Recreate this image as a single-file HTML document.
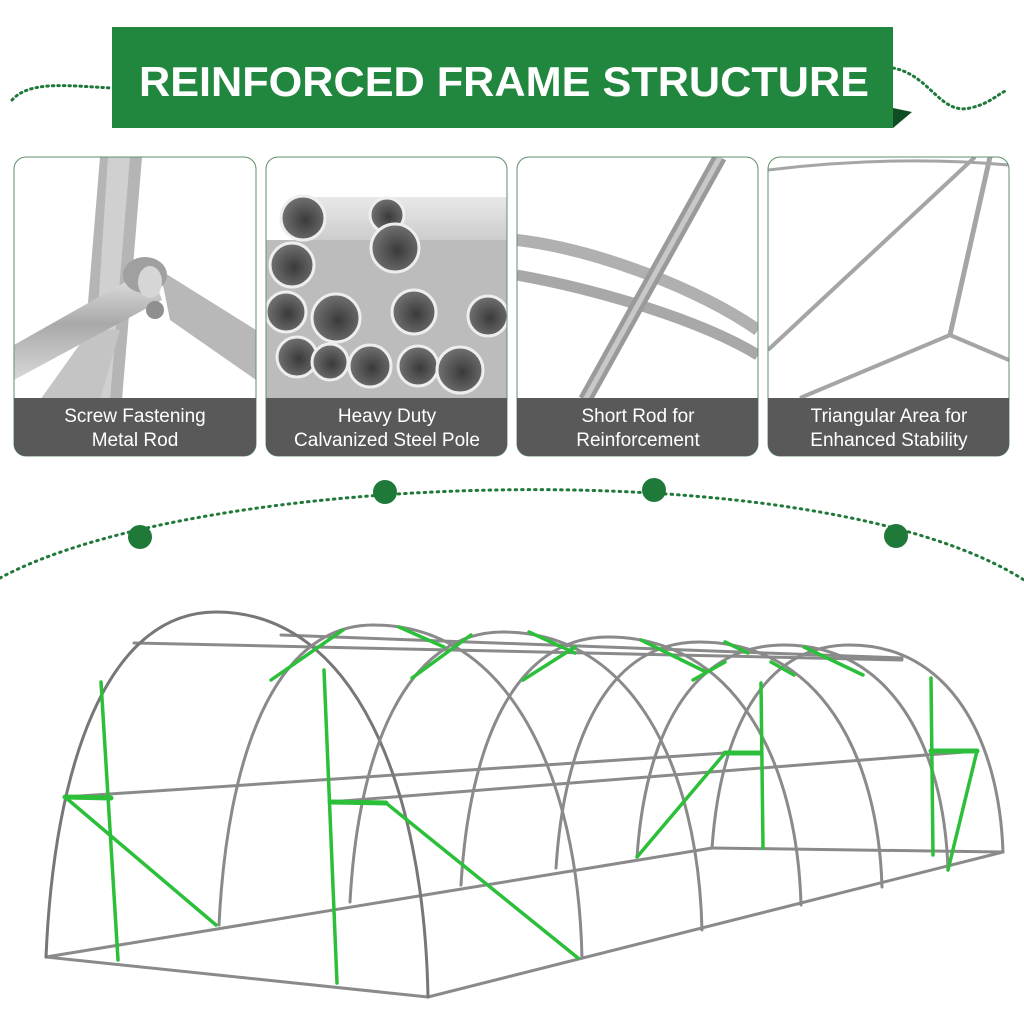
<!DOCTYPE html>
<html><head><meta charset="utf-8"><style>
html,body{margin:0;padding:0;background:#fff;}
svg{display:block}
text{font-family:"Liberation Sans",sans-serif}
</style></head><body>
<svg width="1024" height="1024" viewBox="0 0 1024 1024" xmlns="http://www.w3.org/2000/svg">
<defs>
<linearGradient id="tube" x1="0" y1="0" x2="0" y2="1">
<stop offset="0" stop-color="#e8e8e8"/><stop offset="0.5" stop-color="#a9a9a9"/><stop offset="1" stop-color="#d8d8d8"/>
</linearGradient>
<radialGradient id="hole" cx="0.55" cy="0.55" r="0.6">
<stop offset="0" stop-color="#3a3a3a"/><stop offset="1" stop-color="#777"/>
</radialGradient>
<clipPath id="c1"><rect x="14" y="157" width="242" height="299" rx="12"/></clipPath>
<clipPath id="c2"><rect x="266" y="157" width="241" height="299" rx="12"/></clipPath>
<clipPath id="c3"><rect x="517" y="157" width="241" height="299" rx="12"/></clipPath>
<clipPath id="c4"><rect x="768" y="157" width="241" height="299" rx="12"/></clipPath>
</defs>

<path d="M12,100 C30,80 70,86 112,88" fill="none" stroke="#1f7a3a" stroke-width="3" stroke-dasharray="1.5 4" stroke-linecap="round"/>
<path d="M893,68 C930,75 940,115 970,108 C990,104 1000,92 1008,90" fill="none" stroke="#1f7a3a" stroke-width="3" stroke-dasharray="1.5 4" stroke-linecap="round"/>
<polygon points="893,108 912,112 893,128" fill="#114d24"/>
<rect x="112" y="27" width="781" height="101" fill="#22873e"/>
<text x="504" y="96" text-anchor="middle" font-size="42" font-weight="bold" fill="#fff" textLength="730" lengthAdjust="spacingAndGlyphs">REINFORCED FRAME STRUCTURE</text>

<g clip-path="url(#c1)">
<rect x="14" y="157" width="242" height="299" fill="#fff"/>
<polygon points="100,157 142,157 122,400 80,400" fill="#b5b5b5"/>
<polygon points="108,157 130,157 110,400 92,400" fill="#d0d0d0"/>
<polygon points="160,270 256,330 256,380 170,320" fill="#b8b8b8"/>
<polygon points="40,400 90,330 120,330 100,400" fill="#c4c4c4"/>
<polygon points="14,345 150,268 162,300 14,380" fill="url(#tube)"/>
<ellipse cx="145" cy="275" rx="22" ry="18" fill="#a0a0a0"/>
<ellipse cx="150" cy="282" rx="12" ry="16" fill="#d6d6d6"/>
<circle cx="155" cy="310" r="9" fill="#8f8f8f"/>
</g>
<rect x="14" y="157" width="242" height="299" rx="12" fill="none" stroke="#5f8f6a" stroke-width="1"/>
<path d="M14,398 H256 V444 a12,12 0 0 1 -12,12 H26 a12,12 0 0 1 -12,-12 Z" fill="#595959"/>
<text x="135" y="422" text-anchor="middle" font-size="19" fill="#fff">Screw Fastening</text>
<text x="135" y="446" text-anchor="middle" font-size="19" fill="#fff">Metal Rod</text>

<g clip-path="url(#c2)">
<rect x="266" y="157" width="241" height="299" fill="#fff"/>
<rect x="300" y="197" width="207" height="200" fill="url(#tube)"/>
<rect x="266" y="240" width="241" height="158" fill="#bcbcbc"/>
<g fill="url(#hole)" stroke="#eee" stroke-width="3">
<circle cx="303" cy="218" r="22"/><circle cx="387" cy="215" r="17"/>
<circle cx="395" cy="248" r="24"/>
<circle cx="292" cy="265" r="22"/>
<circle cx="286" cy="312" r="20"/><circle cx="336" cy="318" r="24"/><circle cx="414" cy="312" r="22"/><circle cx="488" cy="316" r="20"/>
<circle cx="297" cy="357" r="20"/><circle cx="330" cy="362" r="18"/><circle cx="370" cy="366" r="21"/><circle cx="418" cy="366" r="20"/><circle cx="460" cy="370" r="23"/>
</g>
</g>
<rect x="266" y="157" width="241" height="299" rx="12" fill="none" stroke="#5f8f6a" stroke-width="1"/>
<path d="M266,398 H507 V444 a12,12 0 0 1 -12,12 H278 a12,12 0 0 1 -12,-12 Z" fill="#595959"/>
<text x="387" y="422" text-anchor="middle" font-size="19" fill="#fff">Heavy Duty</text>
<text x="387" y="446" text-anchor="middle" font-size="19" fill="#fff">Calvanized Steel Pole</text>

<g clip-path="url(#c3)">
<rect x="517" y="157" width="241" height="299" fill="#fff"/>
<path d="M517,240 C600,250 700,290 758,330" fill="none" stroke="#b0b0b0" stroke-width="12"/>
<path d="M517,275 C600,290 700,320 758,355" fill="none" stroke="#a8a8a8" stroke-width="11"/>
<line x1="720" y1="157" x2="585" y2="400" stroke="#9a9a9a" stroke-width="14"/>
<line x1="720" y1="157" x2="585" y2="400" stroke="#c8c8c8" stroke-width="5"/>
</g>
<rect x="517" y="157" width="241" height="299" rx="12" fill="none" stroke="#5f8f6a" stroke-width="1"/>
<path d="M517,398 H758 V444 a12,12 0 0 1 -12,12 H529 a12,12 0 0 1 -12,-12 Z" fill="#595959"/>
<text x="638" y="422" text-anchor="middle" font-size="19" fill="#fff">Short Rod for</text>
<text x="638" y="446" text-anchor="middle" font-size="19" fill="#fff">Reinforcement</text>

<g clip-path="url(#c4)">
<rect x="768" y="157" width="241" height="299" fill="#fff"/>
<g stroke="#a5a5a5" fill="none">
<line x1="975" y1="157" x2="768" y2="350" stroke-width="4"/>
<line x1="990" y1="157" x2="950" y2="335" stroke-width="5"/>
<line x1="950" y1="335" x2="1009" y2="360" stroke-width="4"/>
<line x1="950" y1="335" x2="800" y2="398" stroke-width="4"/>
<path d="M768,170 C850,160 930,158 1009,165" stroke-width="3"/>
</g>
</g>
<rect x="768" y="157" width="241" height="299" rx="12" fill="none" stroke="#5f8f6a" stroke-width="1"/>
<path d="M768,398 H1009 V444 a12,12 0 0 1 -12,12 H780 a12,12 0 0 1 -12,-12 Z" fill="#595959"/>
<text x="889" y="422" text-anchor="middle" font-size="19" fill="#fff">Triangular Area for</text>
<text x="889" y="446" text-anchor="middle" font-size="19" fill="#fff">Enhanced Stability</text>

<path d="M0,578 C200,470 820,450 1024,580" fill="none" stroke="#1f7a3a" stroke-width="3" stroke-dasharray="1.5 5" stroke-linecap="round"/>
<g fill="#1f7a3a"><circle cx="140" cy="537" r="12"/><circle cx="385" cy="492" r="12"/><circle cx="654" cy="490" r="12"/><circle cx="896" cy="536" r="12"/></g>

<g fill="none" stroke="#8a8a8a" stroke-width="3" stroke-linecap="round">
<line x1="46" y1="957" x2="428" y2="997"/>
<line x1="46" y1="957" x2="712" y2="848"/>
<line x1="428" y1="997" x2="1003" y2="852"/>
<line x1="712" y1="848" x2="1003" y2="852"/>
<line x1="65" y1="797" x2="725" y2="753"/>
<line x1="330" y1="802" x2="977" y2="751"/>
<line x1="134" y1="643" x2="902" y2="660"/>
<line x1="281" y1="635" x2="902" y2="658"/>
<path d="M46,957 C54,767 106,612 216,612 C354,612 424,785 428,997" stroke="#777"/>
<path d="M219,925 C227,760 273,625 373,625 C509,625 578,775 582,958"/>
<path d="M350,902 C358,754 404,632 503,632 C632,632 698,766 702,930"/>
<path d="M461,885 C469,749 512,637 608,637 C733,637 797,758 801,905"/>
<path d="M556,868 C564,744 606,642 699,642 C818,642 878,752 882,887"/>
<path d="M637,857 C645,740 688,645 784,645 C891,645 944,746 948,870"/>
<path d="M712,848 C720,736 760,645 850,645 C949,645 999,738 1003,852"/>
</g>
<g stroke="#2bbf3a" stroke-width="3.5" stroke-linecap="round" fill="none">
<line x1="101" y1="682" x2="118" y2="960"/>
<line x1="324" y1="670" x2="337" y2="983"/>
<line x1="761" y1="683" x2="763" y2="848"/>
<line x1="931" y1="678" x2="933" y2="855"/>
<line x1="65" y1="797" x2="111" y2="798" stroke-width="5"/>
<line x1="330" y1="802" x2="386" y2="803" stroke-width="5"/>
<line x1="725" y1="753" x2="761" y2="753" stroke-width="5"/>
<line x1="931" y1="751" x2="977" y2="751" stroke-width="5"/>
<line x1="65" y1="797" x2="216" y2="925"/>
<line x1="386" y1="803" x2="578" y2="958"/>
<line x1="725" y1="753" x2="637" y2="857"/>
<line x1="977" y1="751" x2="948" y2="870"/>
<line x1="271" y1="680" x2="343" y2="630"/>
<line x1="399" y1="627" x2="444" y2="647"/>
<line x1="412" y1="678" x2="471" y2="635"/>
<line x1="529" y1="632" x2="575" y2="653"/>
<line x1="523" y1="680" x2="575" y2="647"/>
<line x1="641" y1="640" x2="706" y2="672"/>
<line x1="693" y1="680" x2="725" y2="662"/>
<line x1="725" y1="642" x2="748" y2="653"/>
<line x1="771" y1="662" x2="794" y2="675"/>
<line x1="804" y1="647" x2="863" y2="675"/>
</g>
</svg>
</body></html>
